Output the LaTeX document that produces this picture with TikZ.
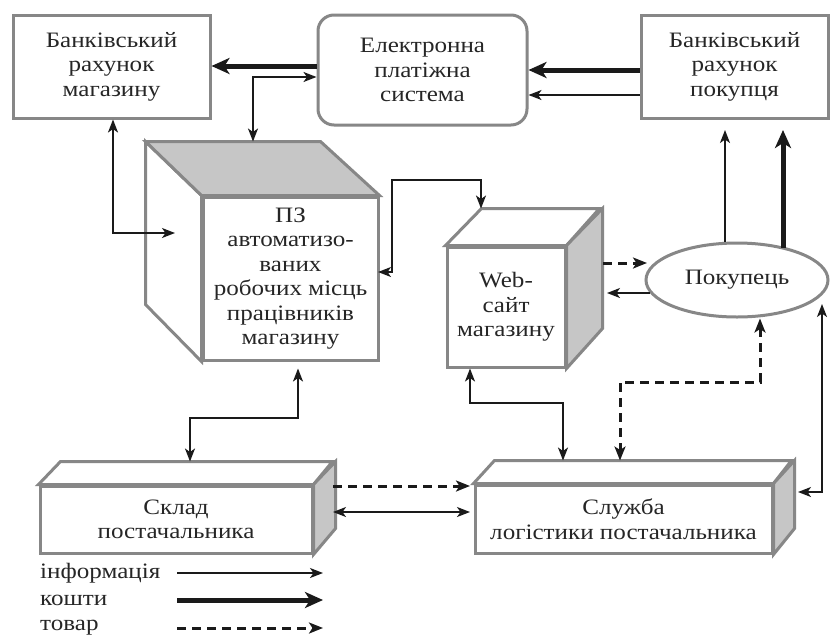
\documentclass[tikz,border=0pt]{standalone}
\usepackage{fontspec}
\setmainfont{Liberation Serif}[FakeStretch=1.14]
\usetikzlibrary{arrows.meta,shapes.geometric}
\definecolor{boxgray}{HTML}{878787}
\definecolor{facegray}{HTML}{C6C6C6}
\definecolor{ink}{HTML}{1A1A1A}
\definecolor{txt}{HTML}{262626}
\tikzset{
  box/.style={draw=boxgray, line width=3pt, fill=white, inner sep=0pt, align=center, text=txt},
  face/.style={draw=boxgray, line width=3pt, line join=miter},
  info/.style={draw=ink, line width=1.6pt, -{Stealth[length=13pt,width=10pt,inset=3.5pt]}},
  infotwo/.style={draw=ink, line width=1.6pt, {Stealth[length=13pt,width=10pt,inset=3.5pt]}-{Stealth[length=13pt,width=10pt,inset=3.5pt]}},
  money/.style={draw=ink, line width=5pt, -{Stealth[length=18pt,width=16pt,inset=5pt]}},
  goods/.style={draw=ink, line width=3pt, dash pattern=on 9pt off 6pt, -{Stealth[length=14pt,width=11pt,inset=3.5pt]}},
  goodstwo/.style={draw=ink, line width=3pt, dash pattern=on 9pt off 6pt, {Stealth[length=14pt,width=11pt,inset=3.5pt]}-{Stealth[length=14pt,width=11pt,inset=3.5pt]}},
  lbl/.style={text=txt, inner sep=0pt, anchor=west}
}
\begin{document}
\begin{tikzpicture}[x=1pt,y=-1pt,font=\fontsize{22}{24.5}\selectfont]
\useasboundingbox[fill=white] (0,0) rectangle (831,641);

% --- top boxes
\node[box, minimum width=197pt, minimum height=103pt] (bankL) at (111.5,66.5) {Банківський\\рахунок\\магазину};
\node[box, rounded corners=16pt, minimum width=209pt, minimum height=110pt] (pay) at (422.5,70) {Електронна\\платіжна\\система};
\node[box, minimum width=187pt, minimum height=103pt] (bankB) at (734.5,66.5) {Банківський\\рахунок\\покупця};

% --- software cube
\node[box, minimum width=175pt, minimum height=163pt] (pz) at (290.5,278.5) {ПЗ\\автоматизо-\\ваних\\робочих місць\\працівників\\магазину};
\draw[face, fill=white] (pz.north west) -- ++(-56,-54) -- ++(0,163) -- (pz.south west) -- cycle;
\draw[face, fill=facegray] (pz.north west) -- ++(-56,-54) coordinate (pzback) -- ++(175,0) -- (pz.north east) -- cycle;

% --- web cube
\node[box, minimum width=118pt, minimum height=120pt] (web) at (506,307) {Web-\\сайт\\магазину};
\draw[face, fill=white] (web.north west) -- ++(36,-37) coordinate (webback) -- ++(118,0) -- (web.north east) -- cycle;
\draw[face, fill=facegray] (web.north east) -- ++(36,-37) -- ++(0,120) -- (web.south east) -- cycle;

% --- buyer
\node[box, ellipse, minimum width=182pt, minimum height=74pt] (buyer) at (737,280) {Покупець};

% --- warehouse
\node[box, minimum width=272pt, minimum height=67pt] (sklad) at (176,519.5) {Склад\\постачальника};
\draw[face, fill=white] (sklad.north west) -- ++(22,-23) coordinate (skladback) -- ++(272,0) -- (sklad.north east) -- cycle;
\draw[face, fill=facegray] (sklad.north east) -- ++(22,-23) -- ++(0,67) -- (sklad.south east) -- cycle;

% --- logistics
\node[box, minimum width=297pt, minimum height=68pt] (log) at (623.5,519) {Служба\\логістики постачальника};
\draw[face, fill=white] (log.north west) -- ++(21,-23) coordinate (logback) -- ++(297,0) -- (log.north east) -- cycle;
\draw[face, fill=facegray] (log.north east) -- ++(21,-23) -- ++(0,68) -- (log.south east) -- cycle;

% --- coordinates
\coordinate (y66) at (0,66);
\coordinate (y70) at (0,70);
\coordinate (y95) at (0,95);
\coordinate (b1) at (253,77);
\coordinate (b2) at (113,233);
\coordinate (e1) at (175,233);
\coordinate (b3) at (392,180);
\coordinate (b4) at (481,180);
\coordinate (e3) at (378,272);
\coordinate (d1) at (603,263);
\coordinate (d2) at (647,263);
\coordinate (t1) at (650,293);
\coordinate (t2) at (607,293);
\coordinate (u1) at (725,130);
\coordinate (u2) at (783,130);
\coordinate (b5) at (760,382);
\coordinate (b6) at (620,382);
\coordinate (w1) at (470,403);
\coordinate (w2) at (563,403);
\coordinate (r0) at (822,304);
\coordinate (b7) at (822,492);
\coordinate (e2) at (798,492);
\coordinate (b8) at (298,418);
\coordinate (b9) at (190,418);
\coordinate (s1) at (333,486);
\coordinate (s2) at (470,486);
\coordinate (s3) at (333,512);
\coordinate (s4) at (470,512);

% --- connectors
\draw[money] (pay.west |- y66) -- (bankL.east |- y66);
\draw[money] (bankB.west |- y70) -- (pay.east |- y70);
\draw[info] (bankB.west |- y95) -- (pay.east |- y95);
\draw[infotwo] (b1 |- pzback) -- (b1) -- (pay.west |- b1);
\draw[infotwo] (bankL.south -| b2) -- (b2) -- (e1);
\draw[infotwo] (e3) -- (e3 -| b3) -- (b3) -- (b4) -- (b4 |- webback);
\draw[goods] (d1) -- (d2);
\draw[info] (t1) -- (t2);
\draw[info] (buyer.north -| u1) -- (u1);
\draw[money] (buyer.north -| u2) ++(0,6) -- (u2);
\draw[goodstwo] (buyer.south -| b5) -- (b5) -- (b6) -- (b6 |- logback);
\draw[infotwo] (web.south -| w1) -- (w1) -- (w2) -- (w2 |- logback);
\draw[infotwo] (r0) -- (b7) -- (e2);
\draw[infotwo, shorten <=7pt] (pz.south -| b8) -- (b8) -- (b9) -- (b9 |- skladback);
\draw[goods] (s1) -- (s2);
\draw[infotwo] (s3) -- (s4);

% --- legend
\node[lbl] (l1) at (40,573) {інформація};
\node[lbl] (l2) at (40,600) {кошти};
\node[lbl] (l3) at (40,628) {товар};
\coordinate (la) at (177,0);
\coordinate (lb) at (323,0);
\draw[info] (la |- l1) -- (lb |- l1);
\draw[money] (la |- l2) -- (lb |- l2);
\draw[goods] (la |- l3) -- (lb |- l3);
\end{tikzpicture}
\end{document}
